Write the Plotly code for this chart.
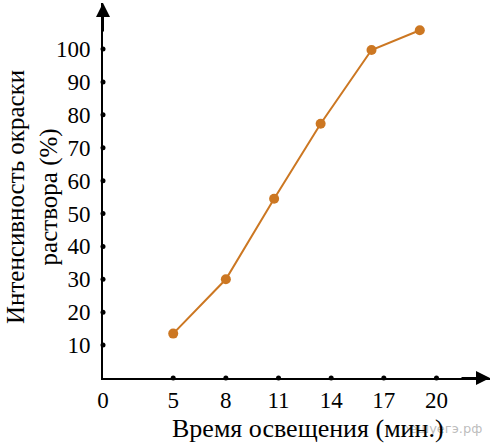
import plotly.graph_objects as go

# Data
time_min = [5, 8, 10.75, 13.4, 16.3, 19.05]
intensity = [13.5, 30, 54.5, 77.3, 99.7, 105.7]

x_tick_vals = [1, 5, 8, 11, 14, 17, 20]
x_tick_text = ["0", "5", "8", "11", "14", "17", "20"]
y_tick_vals = [10, 20, 30, 40, 50, 60, 70, 80, 90, 100]

x_origin = 1
x_end = 23.05
y_end = 114.0

line_color = "#CC7722"
font_family = "Liberation Serif"

W, H = 492, 443
ML, MR, MT, MB = 103, 2, 3, 65

fig = go.Figure()

# tick dots on the axes
fig.add_trace(go.Scatter(
    x=x_tick_vals[1:], y=[0] * (len(x_tick_vals) - 1), mode="markers",
    marker=dict(color="black", size=5), cliponaxis=False, hoverinfo="skip",
    showlegend=False))
fig.add_trace(go.Scatter(
    x=[x_origin] * len(y_tick_vals), y=y_tick_vals, mode="markers",
    marker=dict(color="black", size=5), cliponaxis=False, hoverinfo="skip",
    showlegend=False))

# data series
fig.add_trace(go.Scatter(
    x=time_min, y=intensity, mode="lines+markers",
    line=dict(color=line_color, width=2),
    marker=dict(color=line_color, size=10),
    cliponaxis=False, showlegend=False))

pw = W - ML - MR
ph = H - MT - MB


def px(x):
    return (x - ML) / pw


def py(y):
    return (H - y - MB) / ph


fig.update_layout(
    width=W, height=H,
    margin=dict(l=ML, r=MR, t=MT, b=MB, autoexpand=False),
    paper_bgcolor="white", plot_bgcolor="white",
    font=dict(family=font_family, size=23, color="black"),
    xaxis=dict(
        range=[x_origin, x_end], tickvals=x_tick_vals, ticktext=x_tick_text,
        showgrid=False, zeroline=False, showline=True, linecolor="black",
        linewidth=2, ticks="", ticklabelstandoff=0, automargin=False,
        tickfont=dict(family=font_family, size=23, color="black")),
    yaxis=dict(
        range=[0, y_end], tickvals=y_tick_vals,
        showgrid=False, zeroline=False, showline=True, linecolor="black",
        linewidth=2, ticks="", ticklabelstandoff=6, automargin=False,
        tickfont=dict(family=font_family, size=23, color="black")),
    annotations=[
        # arrowheads
        dict(x=x_end, y=0, xref="x", yref="y", ax=-30, ay=0, text="",
             showarrow=True, arrowhead=2, arrowsize=1.4, arrowwidth=2,
             arrowcolor="black"),
        dict(x=x_origin, y=y_end, xref="x", yref="y", ax=0, ay=30, text="",
             showarrow=True, arrowhead=2, arrowsize=1.4, arrowwidth=2,
             arrowcolor="black"),
        # watermark (drawn first so the title sits on top)
        dict(text="решуегэ.рф", x=px(441), y=py(428), xref="paper",
             yref="paper", showarrow=False,
             xanchor="center", yanchor="middle",
             font=dict(family="DejaVu Sans", size=13,
                       color="rgba(160,160,160,0.7)")),
        # axis titles
        dict(text="Время освещения (мин.)", x=px(308), y=py(428),
             xref="paper", yref="paper", showarrow=False,
             xanchor="center", yanchor="middle",
             font=dict(family=font_family, size=26, color="black")),
        dict(text="Интенсивность окраски<br>раствора (%)", textangle=-90,
             x=px(32), y=py(197), xref="paper", yref="paper", showarrow=False,
             xanchor="center", yanchor="middle",
             font=dict(family=font_family, size=25, color="black")),
    ],
)

fig.write_html("out.html", config={"displayModeBar": False},
               post_script="document.body.style.margin='0';"
                           "document.body.style.padding='0';")
